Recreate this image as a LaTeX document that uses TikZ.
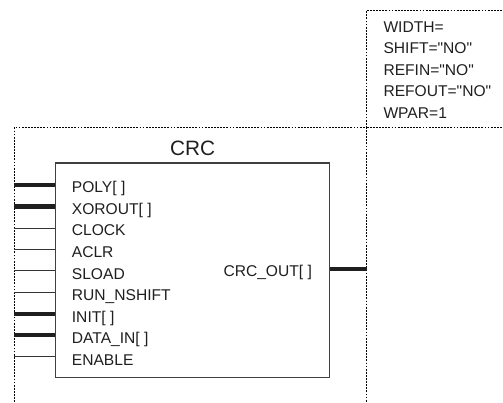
\documentclass[tikz,border=0pt]{standalone}
\usepackage{fontspec}
\setmainfont{Liberation Sans}
\usetikzlibrary{fit}
\newcommand{\qq}{\textquotedbl}
\begin{document}
\begin{tikzpicture}[x=1pt,y=-1pt,
  dotline/.style={draw=black,line width=1pt,dash pattern=on 1.8pt off 1.3pt},
  pintext/.style={anchor=base west,inner sep=0pt,text=black!88,font=\fontsize{15.6}{18}\selectfont},
  thinpin/.style={draw=black!80,line width=0.8pt},
  buspin/.style={draw=black!88,line width=4.2pt},
  boxstyle/.style={draw=black!75,line width=1.3pt,fill=white}]
\useasboundingbox (0,0) rectangle (503,402);
% dotted frames
\draw[dotline] (14,402) -- (14,127.7) -- (366.7,127.7) -- (366.7,402);
\draw[dotline] (366.7,127.7) -- (503,127.7);
\draw[dotline] (366.7,127.7) -- (366.7,10) -- (503,10);
% parameters
\node[pintext] (p1) at (383.3,32.3) {WIDTH=};
\node[pintext] (p2) at (383.3,53.8) {SHIFT=\qq NO\qq};
\node[pintext] (p3) at (383.3,75.3) {REFIN=\qq NO\qq};
\node[pintext] (p4) at (383.3,96.8) {REFOUT=\qq NO\qq};
\node[pintext] (p5) at (383.3,118.3) {WPAR=1};
% title
\node[anchor=base,inner sep=0pt,text=black!88,font=\fontsize{20.8}{24}\selectfont] (title) at (192.7,155) {CRC};
% box
\coordinate (boxnw) at (55.7,163);
\coordinate (boxse) at (329.3,377.7);
\node[boxstyle,inner sep=0pt,fit=(boxnw)(boxse)] (box) {};
% pins
\foreach \i/\name/\kind in {0/POLY[\ ]/buspin,1/XOROUT[\ ]/buspin,2/CLOCK/thinpin,3/ACLR/thinpin,4/SLOAD/thinpin,5/RUN\_NSHIFT/thinpin,6/INIT[\ ]/buspin,7/DATA\_IN[\ ]/buspin,8/ENABLE/thinpin}{
  \coordinate (in\i) at (14,185+21.45*\i);
  \draw[\kind] (in\i) -- (box.west |- in\i);
  \node[pintext] (t\i) at (71.7,192.7+21.6*\i) {\name};
}
% output
\node[pintext] (tout) at (223.3,276.7) {CRC\_OUT[\ ]};
\coordinate (out) at (366.7,269.3);
\draw[buspin] (box.east |- out) -- (out);
\end{tikzpicture}
\end{document}
